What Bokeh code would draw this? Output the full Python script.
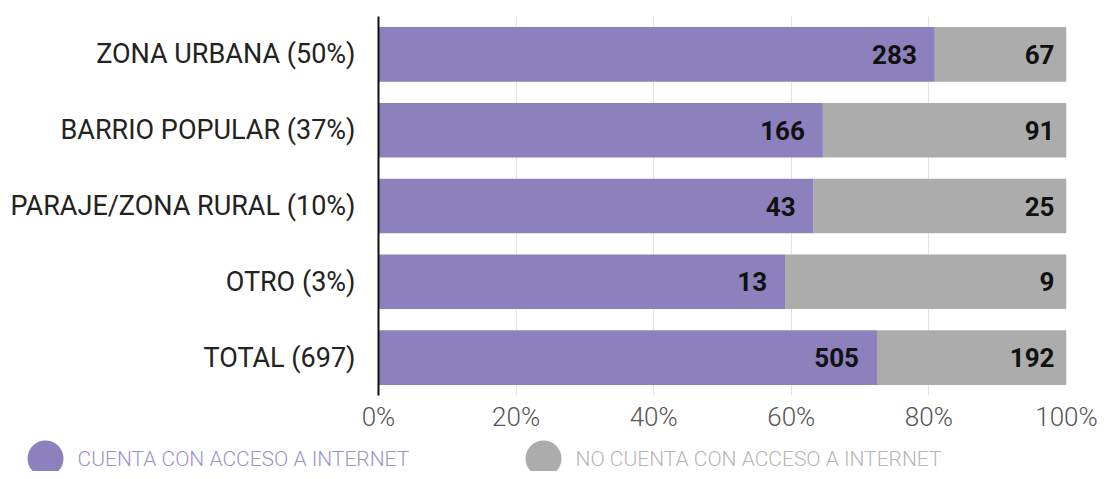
from bokeh.plotting import figure
from bokeh.layouts import column
from bokeh.models import (ColumnDataSource, FactorRange, Range1d, FixedTicker,
                          NumeralTickFormatter)
from bokeh.core.properties import value
from bokeh.embed import file_html
from bokeh.resources import INLINE

categories = ["ZONA URBANA (50%)", "BARRIO POPULAR (37%)", "PARAJE/ZONA RURAL (10%)",
              "OTRO (3%)", "TOTAL (697)"]
con_acceso = [283, 166, 43, 13, 505]
sin_acceso = [67, 91, 25, 9, 192]
series_names = ["CUENTA CON ACCESO A INTERNET", "NO CUENTA CON ACCESO A INTERNET"]
x_ticks = [0, 0.2, 0.4, 0.6, 0.8, 1.0]

PURPLE = "#8c80bd"
GRAY = "#acacac"
series_colors = [PURPLE, GRAY]
legend_text_colors = ["#9d93c9", "#b6b6b6"]
LIGHT = "'Roboto Light', Roboto"

totals = [a + b for a, b in zip(con_acceso, sin_acceso)]
frac_con = [a / t for a, t in zip(con_acceso, totals)]
src = ColumnDataSource(dict(
    cat=categories,
    f_con=frac_con,
    f_end=[1.0] * len(categories),
    lab_con=[str(v) for v in con_acceso],
    lab_sin=[str(v) for v in sin_acceso],
))

W = 1099
MAIN_H = 434
p = figure(width=W, height=MAIN_H,
           y_range=FactorRange(factors=list(reversed(categories)), range_padding=0),
           x_range=Range1d(0, 1),
           output_backend="svg", toolbar_location=None,
           min_border_left=378, min_border_right=W - 1066,
           min_border_top=16, min_border_bottom=MAIN_H - 397)
p.outline_line_color = None

p.hbar(y="cat", left=0, right="f_con", height=0.72, source=src,
       fill_color=PURPLE, line_color=None)
p.hbar(y="cat", left="f_con", right="f_end", height=0.72, source=src,
       fill_color=GRAY, line_color=None)

p.text(x="f_con", y="cat", text="lab_con", source=src, text_align="right",
       text_baseline="middle", x_offset=-18, text_font=value("Roboto"),
       text_font_style="bold", text_font_size="26px", text_color="#111111")
p.text(x="f_end", y="cat", text="lab_sin", source=src, text_align="right",
       text_baseline="middle", x_offset=-12, text_font=value("Roboto"),
       text_font_style="bold", text_font_size="26px", text_color="#111111")

p.xaxis.ticker = FixedTicker(ticks=x_ticks)
p.xaxis.formatter = NumeralTickFormatter(format="0%")
p.xaxis.axis_line_color = None
p.xaxis.major_tick_line_color = None
p.xaxis.minor_tick_line_color = None
p.xaxis.major_label_text_font = LIGHT
p.xaxis.major_label_text_font_size = "26px"
p.xaxis.major_label_text_color = "#555555"
p.xaxis.major_label_standoff = 0

p.yaxis.axis_line_color = "#111111"
p.yaxis.axis_line_width = 2
p.yaxis.major_tick_line_color = None
p.yaxis.minor_tick_line_color = None
p.yaxis.major_label_text_font = "Roboto"
p.yaxis.major_label_text_font_size = "27px"
p.yaxis.major_label_text_color = "#222222"
p.yaxis.major_label_standoff = 17

p.xgrid.grid_line_color = "#e3e3e3"
p.xgrid.grid_line_width = 1
p.ygrid.grid_line_color = None

# legend strip: one slot per series, slot index as x
SLOT = 498  # px between legend entries
LH = 37
lf = figure(width=W, height=LH,
            x_range=Range1d(-45 / SLOT, (W - 45) / SLOT),
            y_range=Range1d(-13 / LH, 24 / LH),
            x_axis_type=None, y_axis_type=None, output_backend="svg",
            toolbar_location=None, min_border=0)
lf.frame_align = False
lf.outline_line_color = None
lsrc = ColumnDataSource(dict(
    slot=list(range(len(series_names))),
    row=[0] * len(series_names),
    name=series_names,
    color=series_colors,
    tcolor=legend_text_colors,
))
lf.scatter(x="slot", y="row", source=lsrc, marker="circle", size=36,
           fill_color="color", line_color=None)
lf.text(x="slot", y="row", text="name", source=lsrc, x_offset=32,
        text_align="left", text_baseline="middle", text_font=value(LIGHT),
        text_font_size="21px", text_color="tcolor")

layout = column(p, lf, spacing=0)
open("out.html", "w").write(file_html(layout, INLINE))
